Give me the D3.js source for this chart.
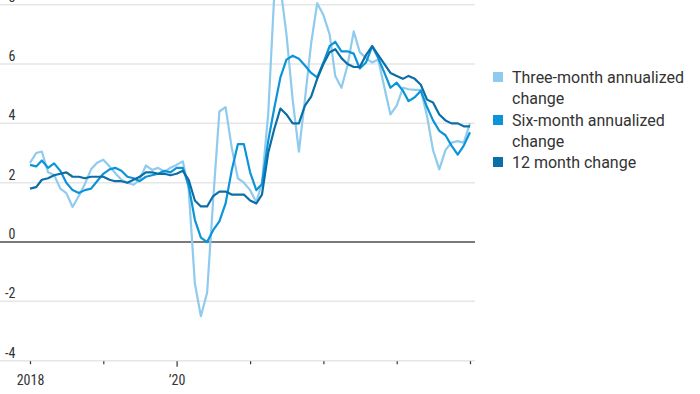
<!DOCTYPE html>
<html>
<head>
<meta charset="utf-8">
<script src="https://cdn.jsdelivr.net/npm/d3@7/dist/d3.min.js"></script>
<style>
  html, body { margin: 0; padding: 0; background: #fff; }
  svg { display: block; }
</style>
</head>
<body>
<svg id="chart" width="700" height="394"></svg>
<script>
// Months: Jan 2018 .. Jan 2024
const startYear = 2018, startMonth = 0, monthCount = 73;

const threeMonth = [
  2.67, 3.0, 3.05, 2.35, 2.26, 1.8, 1.65, 1.18, 1.55, 1.95, 2.45, 2.67,
  2.77, 2.55, 2.33, 2.1, 2.0, 1.93, 2.1, 2.58, 2.43, 2.5, 2.37, 2.5,
  2.6, 2.72, 1.8, -1.4, -2.5, -1.7, 1.4, 4.4, 4.55, 3.2, 2.15, 2.0,
  1.75, 1.35, 2.0, 4.3, 8.3, 8.6, 7.0, 4.8, 3.05, 4.8, 6.7, 8.05,
  7.65, 7.0, 5.6, 5.2, 5.95, 7.1, 6.4, 6.2, 6.05, 6.15, 5.2, 4.3,
  4.6, 5.2, 5.15, 5.13, 5.13, 4.25, 3.1, 2.45, 3.1, 3.35, 3.4, 3.35,
  4.0
];
const sixMonth = [
  2.6, 2.55, 2.75, 2.5, 2.65, 2.4, 2.0, 1.75, 1.65, 1.75, 1.8, 2.05,
  2.3, 2.45, 2.5, 2.4, 2.2, 2.15, 2.05, 2.2, 2.25, 2.3, 2.4, 2.35,
  2.5, 2.5, 1.9, 0.75, 0.15, 0.0, 0.4, 0.7, 1.3, 2.4, 3.3, 3.3,
  2.35, 1.75, 1.95, 3.4, 4.5, 5.55, 6.15, 6.28, 6.18, 5.95, 5.7, 5.55,
  6.05, 6.6, 6.75, 6.43, 6.43, 6.35, 5.85, 6.05, 6.6, 6.2, 5.7, 5.2,
  5.37, 5.1, 4.75, 4.88, 5.1, 4.55, 4.1, 3.75, 3.6, 3.25, 2.95, 3.25,
  3.7
];
const twelveMonth = [
  1.8, 1.85, 2.1, 2.15, 2.25, 2.3, 2.35, 2.2, 2.2, 2.15, 2.2, 2.2,
  2.2, 2.1, 2.05, 2.05, 2.0, 2.1, 2.2, 2.35, 2.35, 2.3, 2.3, 2.25,
  2.3, 2.4, 2.1, 1.4, 1.2, 1.2, 1.55, 1.7, 1.7, 1.6, 1.6, 1.6,
  1.4, 1.3, 1.6, 3.0, 3.8, 4.5, 4.3, 4.0, 4.0, 4.6, 4.9, 5.5,
  6.0, 6.4, 6.5, 6.2, 6.0, 5.9, 5.9, 6.3, 6.6, 6.3, 6.0, 5.7,
  5.6, 5.5, 5.6, 5.5, 5.3, 4.8, 4.7, 4.3, 4.1, 4.0, 4.0, 3.9,
  3.9
];

const seriesNames = ["Three-month annualized change", "Six-month annualized change", "12 month change"];
const seriesLegendLines = [["Three-month annualized", "change"], ["Six-month annualized", "change"], ["12 month change"]];
const seriesColors = ["#8ecbef", "#0b95d8", "#0b6ea6"];
const yTicks = [-4, -2, 0, 2, 4, 6, 8];
const xTickYears = [2018, 2019, 2020, 2021, 2022, 2023, 2024];
const xTickLabels = {2018: "2018", 2020: "\u201920"};

const months = d3.range(monthCount).map(i => new Date(startYear, startMonth + i, 1));
const allSeries = [threeMonth, sixMonth, twelveMonth];

const svg = d3.select("#chart");
const x = d3.scaleTime().domain([new Date(2018, 0, 1), new Date(2024, 0, 1)]).range([30, 470]);
const y = d3.scaleLinear().domain([-4, 8]).range([360.7, 4.7]);

const gridLeft = 0, gridRight = 475;
const axisFont = "'Liberation Sans Narrow', 'Roboto Condensed', 'DejaVu Sans Condensed', Roboto, sans-serif";

// Gridlines
const grid = svg.append("g");
grid.selectAll("line").data(yTicks.filter(d => d !== 0)).join("line")
  .attr("x1", gridLeft).attr("x2", gridRight)
  .attr("y1", d => y(d)).attr("y2", d => y(d))
  .attr("stroke", "#e6e6e6").attr("stroke-width", 1.5);

// Y labels
svg.append("g").selectAll("text").data(yTicks).join("text")
  .attr("x", 15.5).attr("y", d => y(d) - 3)
  .attr("text-anchor", "end")
  .attr("font-family", axisFont).attr("font-size", 14).attr("fill", "#333")
  .text(d => d);

// X axis ticks
const xAxis = d3.axisBottom(x)
  .tickValues(xTickYears.map(yr => new Date(yr, 0, 1)))
  .tickSize(0)
  .tickFormat("");
const xg = svg.append("g").attr("transform", `translate(0,${y(-4)})`).call(xAxis);
xg.select(".domain").remove();
xg.selectAll(".tick line").remove();
xg.selectAll(".tick").append("line")
  .attr("y1", 0.5)
  .attr("y2", d => xTickLabels[d.getFullYear()] && d.getFullYear() !== 2018 ? 6 : 3.5)
  .attr("stroke", "#333").attr("stroke-width", 1.2);
xg.selectAll(".tick").append("text")
  .attr("y", 24).attr("text-anchor", "middle")
  .attr("font-family", axisFont).attr("font-size", 14).attr("fill", "#333")
  .text(d => xTickLabels[d.getFullYear()] || "");

// Zero line
svg.append("line")
  .attr("x1", gridLeft).attr("x2", gridRight)
  .attr("y1", y(0)).attr("y2", y(0))
  .attr("stroke", "#7a7a7a").attr("stroke-width", 2);

// Lines
const line = d3.line().x((d, i) => x(months[i])).y(d => y(d));
svg.append("g").selectAll("path").data(allSeries).join("path")
  .attr("d", d => line(d))
  .attr("fill", "none")
  .attr("stroke", (d, i) => seriesColors[i])
  .attr("stroke-width", 2.2)
  .attr("stroke-linejoin", "round");

// Legend
const legendFont = "Roboto, 'Noto Sans', sans-serif";
const legendTop = [77, 120, 162];
const lg = svg.append("g");
seriesLegendLines.forEach((lines, i) => {
  lg.append("rect")
    .attr("x", 493).attr("y", legendTop[i] - 5).attr("width", 10).attr("height", 10)
    .attr("fill", seriesColors[i]);
  const t = lg.append("text")
    .attr("font-family", legendFont).attr("font-size", 16).attr("fill", "#333");
  lines.forEach((ln, j) => {
    t.append("tspan").attr("x", 512).attr("y", legendTop[i] + 5.5 + j * 21).text(ln);
  });
});
</script>
</body>
</html>
